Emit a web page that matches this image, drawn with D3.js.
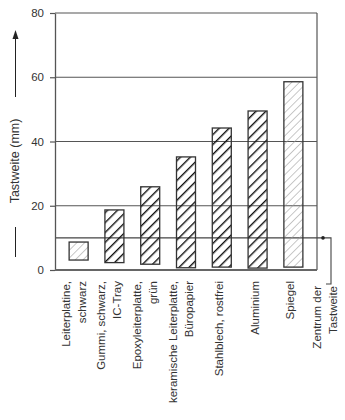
<!DOCTYPE html>
<html>
<head>
<meta charset="utf-8">
<script src="https://cdn.jsdelivr.net/npm/d3@7"></script>
<style>
  body { margin: 0; background: #fff; }
  svg text { font-family: "Liberation Sans", Arial, sans-serif; fill: #333; }
</style>
</head>
<body>
<div id="chart"></div>
<script>
// materials along the x axis, each label as its lines
const materials = [
    ["Leiterplatine,", "schwarz"],
    ["Gummi, schwarz,", "IC-Tray"],
    ["Epoxyleiterplatte,", "grün"],
    ["keramische Leiterplatte,", "Büropapier"],
    ["Stahlblech, rostfrei"],
    ["Aluminium"],
    ["Spiegel"]
]
// top and bottom of each bar (mm)
const rangeTop = [8.7, 18.7, 25.9, 35.2, 44.2, 49.5, 58.6]
const rangeBottom = [3.1, 2.3, 1.8, 0.7, 0.9, 0.6, 0.9]
// which hatch each bar uses
const hatch = ["light", "dark", "dark", "dark", "dark", "dark", "light"]
const yTicks = [0, 20, 40, 60, 80]
const centre = 10

const W = 345, H = 420
const margin = {top: 13, right: 28, bottom: 150, left: 55}
const x0 = margin.left, x1 = W - margin.right, yBottom = H - margin.bottom
const fontSize = "11.5px"

let svg = d3.select("#chart").append("svg").attr("width", W).attr("height", H)

// hatch patterns
let defs = svg.append("defs")
defs.append("pattern").attr("id", "hatch_light").attr("patternUnits", "userSpaceOnUse")
    .attr("width", 5.5).attr("height", 5.5).attr("patternTransform", "rotate(45)")
    .append("line").attr("x1", 0).attr("y1", 0).attr("x2", 0).attr("y2", 5.5)
    .attr("stroke", "#9a9a9a").attr("stroke-width", 1.1)
defs.append("pattern").attr("id", "hatch_dark").attr("patternUnits", "userSpaceOnUse")
    .attr("width", 7).attr("height", 7).attr("patternTransform", "rotate(45)")
    .append("line").attr("x1", 0).attr("y1", 0).attr("x2", 0).attr("y2", 7)
    .attr("stroke", "#111").attr("stroke-width", 2.8)

let xScale = d3.scalePoint().domain(d3.range(materials.length)).range([x0, x1]).padding(0.66)
let yScale = d3.scaleLinear().domain([0, 80]).range([yBottom, margin.top])
const barW = 19

// grid lines
svg.append("g").selectAll("line").data(yTicks.filter(d => d > 0)).enter().append("line")
    .attr("x1", x0).attr("x2", x1)
    .attr("y1", d => yScale(d)).attr("y2", d => yScale(d))
    .attr("stroke", "#555").attr("stroke-width", 1.2)

// right border
svg.append("line").attr("x1", x1).attr("x2", x1).attr("y1", yScale(80)).attr("y2", yBottom)
    .attr("stroke", "#555").attr("stroke-width", 1.2)

// centre of scan range line + callout
let yc = yScale(centre)
svg.append("path")
    .attr("d", `M${x0},${yc} H${x1 + 14} V${yBottom + 14} H${x1 + 9}`)
    .attr("fill", "none").attr("stroke", "#444").attr("stroke-width", 1.1)
svg.append("circle").attr("cx", x1 + 6).attr("cy", yc).attr("r", 1.8).attr("fill", "#222")

// bars
svg.append("g").selectAll("rect").data(rangeTop).enter().append("rect")
    .attr("x", (d, i) => xScale(i) - barW / 2)
    .attr("width", barW)
    .attr("y", d => yScale(d))
    .attr("height", (d, i) => yScale(rangeBottom[i]) - yScale(d))
    .attr("fill", (d, i) => "url(#hatch_" + hatch[i] + ")")
    .attr("stroke", "#333").attr("stroke-width", 1.3)

// y axis
let yAxis = svg.append("g").attr("transform", "translate(" + x0 + ",0)")
    .call(d3.axisLeft(yScale).tickValues(yTicks).tickSize(5).tickSizeOuter(0).tickPadding(6))
yAxis.select(".domain").attr("stroke", "#555").attr("stroke-width", 1.3)
yAxis.selectAll(".tick line").attr("stroke", "#555").attr("stroke-width", 1.2)
yAxis.selectAll(".tick text").style("font-size", fontSize).attr("fill", "#333")
    .style("font-family", "'Liberation Sans', Arial, sans-serif")

// bottom axis line
svg.append("line").attr("x1", x0).attr("x2", x1).attr("y1", yBottom).attr("y2", yBottom)
    .attr("stroke", "#666").attr("stroke-width", 2)

// y title with arrow
svg.append("text").text("Tastweite (mm)")
    .attr("transform", "translate(18.5,161) rotate(-90)")
    .style("text-anchor", "middle").style("font-size", "12.5px")
svg.append("line").attr("x1", 15.5).attr("x2", 15.5).attr("y1", 97).attr("y2", 36)
    .attr("stroke", "#222").attr("stroke-width", 1)
svg.append("path").attr("d", "M15.5,30 L12.5,39 L18.5,39 Z").attr("fill", "#222")
svg.append("line").attr("x1", 15.5).attr("x2", 15.5).attr("y1", 227).attr("y2", 257)
    .attr("stroke", "#222").attr("stroke-width", 1)

// x labels, rotated, anchored at the top
let labels = svg.append("g").selectAll("g").data(materials).enter().append("g")
labels.each(function(lines, i) {
    let g = d3.select(this)
    let offs = lines.length == 2 ? [-9, 7] : [1]
    lines.forEach((t, k) => {
        g.append("text").text(t)
            .attr("transform", "translate(" + (xScale(i) + offs[k]) + "," + (yBottom + 11) + ") rotate(-90)")
            .style("text-anchor", "end").style("font-size", fontSize)
    })
})
// callout label
;["Zentrum der", "Tastweite"].forEach((t, k) => {
    svg.append("text").text(t)
        .attr("transform", "translate(" + (x1 + 4 + k * 16) + "," + (yBottom + 16) + ") rotate(-90)")
        .style("text-anchor", "end").style("font-size", fontSize)
})
</script>
</body>
</html>
